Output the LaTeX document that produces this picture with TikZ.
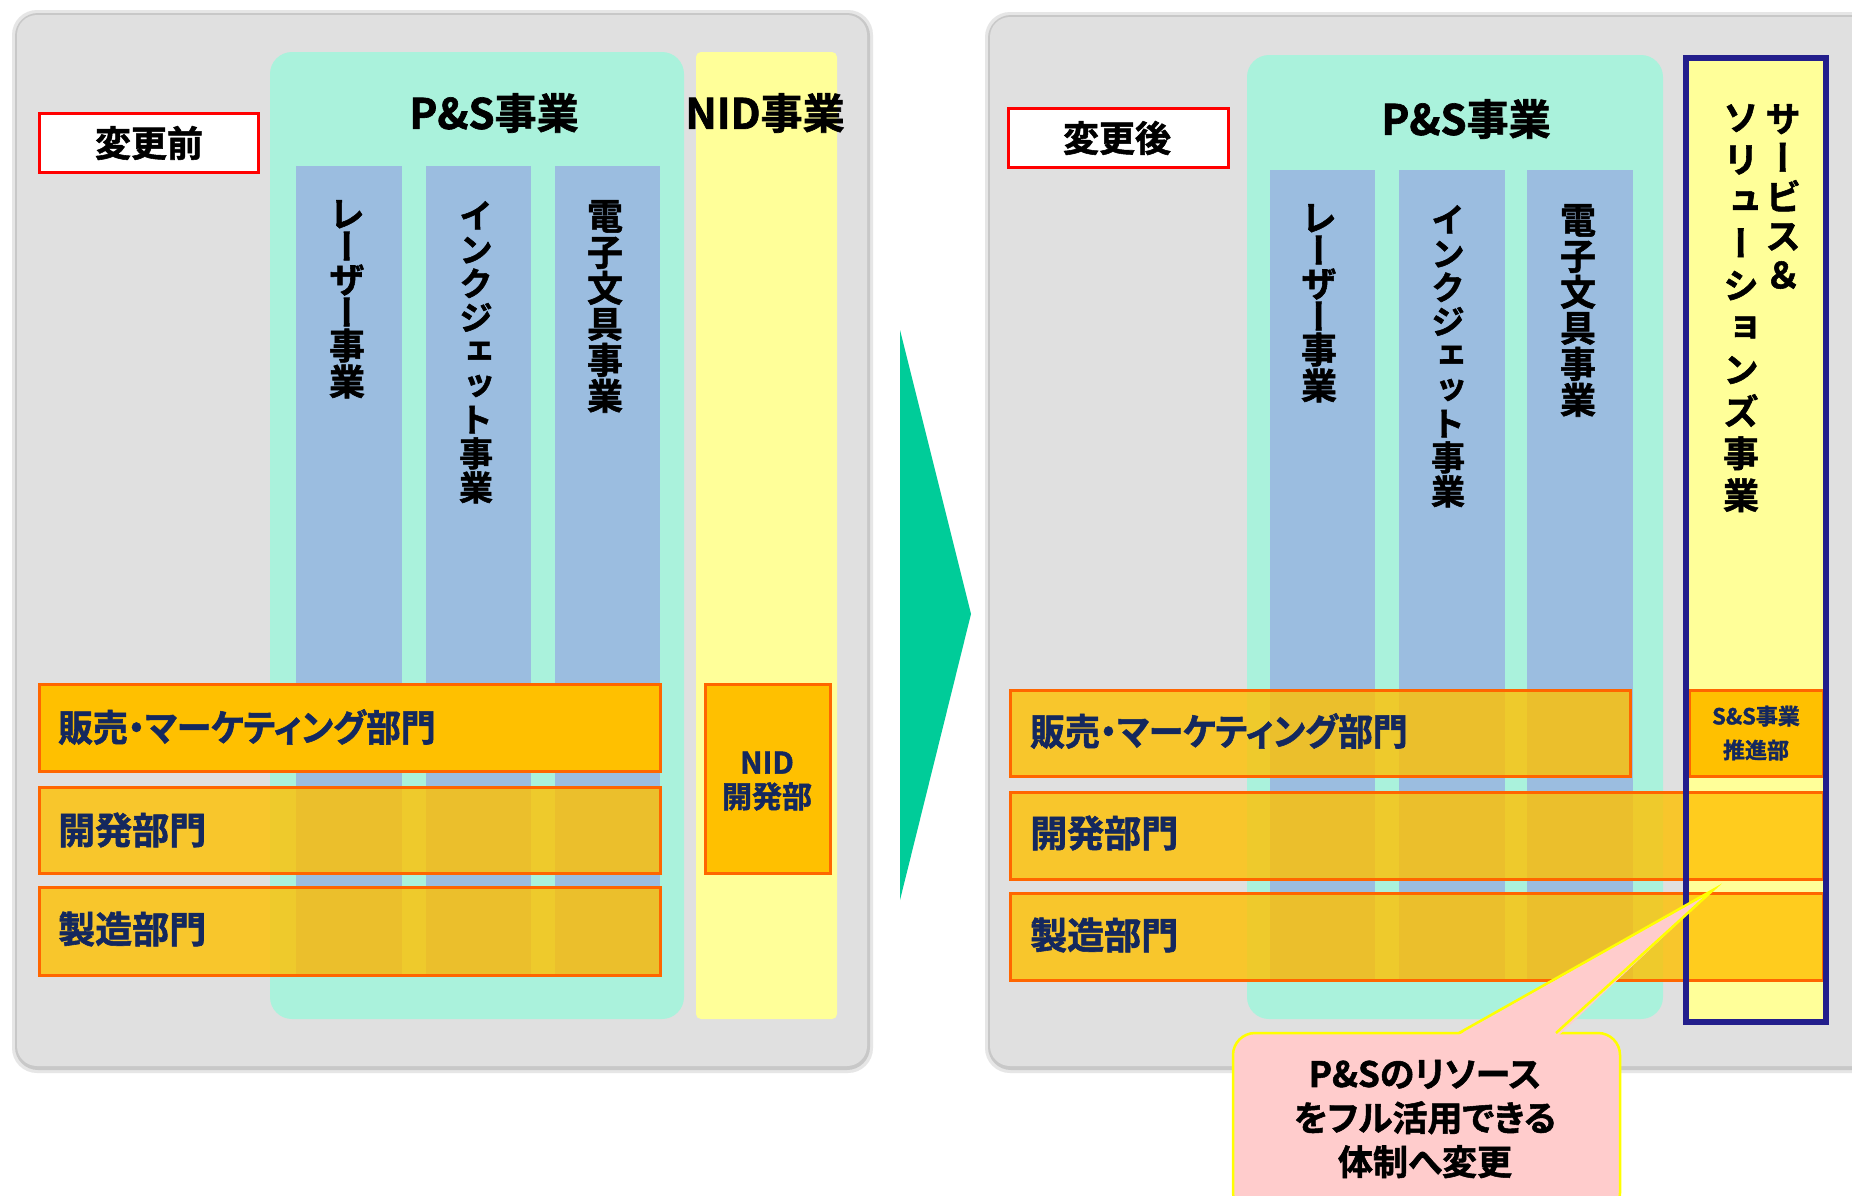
\documentclass[tikz,border=0pt]{standalone}
\usepackage{fontspec}
\newfontfamily\jp{Noto Sans CJK JP}[UprightFont=* Bold, RawFeature=+palt, FakeBold=1.5]
\newfontfamily\jpn{Noto Sans CJK JP}[UprightFont=* Bold, RawFeature=+palt, FakeBold=1.5, FakeStretch=0.94]
\newfontfamily\jpv{Noto Sans CJK JP}[UprightFont=* Bold, RawFeature=+vert, FakeBold=1.5]
\definecolor{panel}{HTML}{E0E0E0}
\definecolor{panelsh}{HTML}{C8C8C8}
\definecolor{mint}{HTML}{AAF2DC}
\definecolor{bluecol}{HTML}{9BBDE0}
\definecolor{ylw}{HTML}{FFFF99}
\definecolor{org}{HTML}{FFC000}
\definecolor{orgline}{HTML}{FF6600}
\definecolor{navy}{HTML}{231F8C}
\definecolor{txtnavy}{HTML}{14285E}
\definecolor{grn}{HTML}{00CC99}
\definecolor{pinkc}{HTML}{FFCCCC}
\definecolor{callline}{HTML}{FFFF00}
\tikzset{
  mintbox/.style={fill=mint, rounded corners=22},
  bluebox/.style={fill=bluecol},
  bar/.style={draw=orgline, line width=3, fill=org},
  bartr/.style={bar, fill opacity=0.8},
  bartext/.style={anchor=west, inner sep=0, text=txtnavy, font=\jp\fontsize{37}{40}\selectfont},
  vtext/.style={anchor=north, inner sep=0, align=center, font=\jpv\fontsize{36}{36}\selectfont},
  vtextink/.style={anchor=north, inner sep=0, align=center, font=\jpv\fontsize{34}{34}\selectfont},
  vtextw/.style={anchor=north, inner sep=0, align=center, font=\jpv\fontsize{36}{40}\selectfont},
  title/.style={inner sep=0, font=\jp\fontsize{42}{46}\selectfont},
  labelbox/.style={draw=red, line width=3, fill=white},
  labeltext/.style={inner sep=0, font=\jp\fontsize{36}{40}\selectfont},
  smalltext/.style={inner sep=0, align=center, text=txtnavy},
}
\newcommand{\grayp}[4]{%
  \fill[panelsh!45!white, rounded corners=25] (#1-5,#2-5) rectangle (#3+6,#4+7);
  \fill[panelsh, rounded corners=23] (#1-2,#2-2) rectangle (#3+3,#4+4);
  \fill[panel, rounded corners=20] (#1,#2) rectangle (#3,#4);}
\lineskiplimit=-100pt
\begin{document}
\begin{tikzpicture}[x=1pt,y=-1pt]
\useasboundingbox (0,0) rectangle (1852,1195);
\clip (0,0) rectangle (1852,1195);
\fill[white] (0,0) rectangle (1852,1195);

% ================= LEFT (before) =================
\grayp{17}{15}{867}{1066}
\fill[mintbox] (270,52) rectangle (684,1019);
\fill[ylw, rounded corners=5] (696,52) rectangle (837,1019);
\fill[bluebox] (296,166) rectangle (402,976);
\fill[bluebox] (426,166) rectangle (531,976);
\fill[bluebox] (555,166) rectangle (660,976);

\node[title] (ps1) at (494,113) {P\&S事業};
\node[title] (nid1) at (765,113) {NID事業};
\draw[labelbox] (39,113) rectangle (258,172);
\node[labeltext] (before) at (149,143) {変更前};

\node[vtext] (laser1) at (347,200) {レ\\[-3pt]ー\\[-3pt]ザ\\[-3pt]ー\\[-3pt]事\\業};
\node[vtextink] (ink1) at (476,201) {イ\\ン\\ク\\ジ\\ェ\\ッ\\ト\\事\\業};
\node[vtext] (elec1) at (605,200) {電\\子\\文\\具\\事\\業};

\draw[bar] (39,684) rectangle (660,771);
\draw[bartr] (39,787) rectangle (660,873);
\draw[bartr] (39,887) rectangle (660,975);
\node[bartext, font=\jpn\fontsize{37}{40}\selectfont] (sales1) at (58,727) {販売・マーケティング部門};
\node[bartext] (dev1) at (58,830) {開発部門};
\node[bartext] (mfg1) at (58,929) {製造部門};

\draw[bar] (705,684) rectangle (830,873);
\node[smalltext, font=\jp\fontsize{30}{34}\selectfont] (niddev) at (767,781) {NID\\開発部};

% ================= ARROW =================
\fill[grn] (900,330) -- (971,614) -- (900,900) -- cycle;

% ================= RIGHT (after) =================
\grayp{990}{17}{1920}{1066}
\fill[mintbox] (1247,55) rectangle (1663,1019);
\fill[ylw] (1686,58) rectangle (1826,1022);
\fill[bluebox] (1270,170) rectangle (1375,980);
\fill[bluebox] (1399,170) rectangle (1505,980);
\fill[bluebox] (1527,170) rectangle (1633,980);

\node[title] (ps2) at (1466,119) {P\&S事業};
\draw[labelbox] (1008,108) rectangle (1228,167);
\node[labeltext] (after) at (1117,138) {変更後};

\node[vtext] (laser2) at (1319,204) {レ\\[-3pt]ー\\[-3pt]ザ\\[-3pt]ー\\[-3pt]事\\業};
\node[vtextink] (ink2) at (1448,205) {イ\\ン\\ク\\ジ\\ェ\\ッ\\ト\\事\\業};
\node[vtext] (elec2) at (1578,204) {電\\子\\文\\具\\事\\業};
\node[vtextw, font=\jpv\fontsize{36}{39}\selectfont] (ss1) at (1783,104) {サ\\ー\\ビ\\ス\\＆};
\node[vtextw, font=\jpv\fontsize{36}{42}\selectfont] (ss2) at (1741,104) {ソ\\リ\\ュ\\ー\\シ\\ョ\\ン\\ズ\\事\\業};

\draw[bartr] (1010,690) rectangle (1630,776);
\draw[bartr] (1010,792) rectangle (1823,879);
\draw[bartr] (1010,893) rectangle (1823,980);
\draw[bar] (1689,690) rectangle (1823,776);
\node[bartext, font=\jpn\fontsize{37}{40}\selectfont] (sales2) at (1030,731) {販売・マーケティング部門};
\node[bartext] (dev2) at (1030,833) {開発部門};
\node[bartext] (mfg2) at (1030,935) {製造部門};
\node[smalltext, font=\jp\fontsize{22}{34}\selectfont] (ssdev) at (1756,733) {S\&S事業\\推進部};

\draw[navy, line width=6] (1686,58) rectangle (1826,1022);

% callout
\draw[fill=pinkc, draw=callline, line width=2.5, rounded corners=22] (1233,1033) rectangle (1620,1215);
\fill[pinkc] (1457,1036) -- (1713,890) -- (1558,1036) -- cycle;
\draw[callline, line width=2.5] (1459,1033) -- (1713,890) -- (1556,1033);
\node[inner sep=0, align=center, font=\jp\fontsize{35}{44}\selectfont] (note) at (1425,1119) {P\&Sのリソース\\をフル活用できる\\体制へ変更};
\end{tikzpicture}
\end{document}
